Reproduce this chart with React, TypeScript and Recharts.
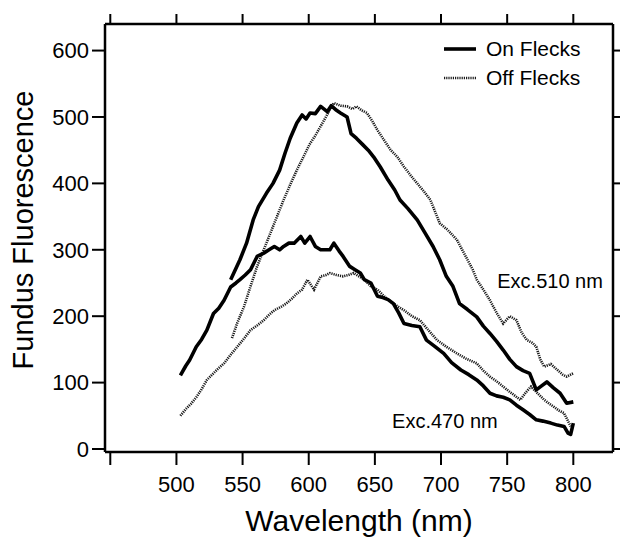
import React from 'react';
import { LineChart, Line, XAxis, YAxis, Legend, ReferenceDot } from 'recharts';

const FONT = '"Liberation Sans", Arial, Helvetica, sans-serif';

const xTicks = [450, 500, 550, 600, 650, 700, 750, 800];
const yTicks = [0, 100, 200, 300, 400, 500, 600];

const on510Nm = [541, 548, 553, 558, 562, 568, 573, 578, 582, 586, 591, 595, 598, 601, 605, 609, 614, 617, 621, 624, 629, 632, 636, 641, 645, 649, 654, 660, 665, 669, 675, 682, 688, 694, 699, 704, 709, 714, 720, 727, 732, 737, 742, 747, 752, 757, 762, 767, 772, 776, 780, 785, 790, 795, 800];
const on510Val = [255, 285, 310, 345, 365, 385, 400, 420, 445, 468, 491, 503, 497, 506, 505, 516, 508, 517, 510, 506, 500, 475, 468, 458, 450, 440, 425, 405, 390, 375, 362, 345, 325, 305, 285, 260, 245, 219, 210, 199, 185, 174, 162, 149, 135, 124, 118, 114, 89, 95, 101, 92, 84, 69, 71];

const off510Nm = [542, 546, 551, 556, 561, 566, 571, 576, 581, 586, 591, 596, 601, 605, 609, 613, 616, 619, 624, 629, 633, 636, 640, 644, 648, 652, 657, 662, 667, 672, 677, 682, 687, 692, 699, 705, 712, 716, 720, 724, 727, 732, 737, 742, 747, 752, 757, 761, 765, 769, 772, 775, 778, 783, 788, 792, 795, 800];
const off510Val = [167, 190, 214, 245, 275, 300, 325, 350, 375, 398, 420, 440, 460, 472, 486, 500, 511, 521, 517, 516, 512, 516, 510, 506, 494, 480, 465, 450, 440, 425, 412, 400, 388, 375, 340, 330, 315, 300, 285, 270, 255, 240, 224, 205, 189, 200, 194, 175, 164, 160, 154, 135, 124, 128, 119, 112, 109, 114];

const on470Nm = [503, 507, 510, 515, 519, 523, 528, 532, 536, 541, 545, 548, 552, 556, 561, 566, 570, 574, 578, 581, 585, 589, 594, 597, 601, 605, 609, 613, 616, 619, 623, 626, 631, 635, 639, 642, 647, 652, 656, 660, 664, 668, 672, 678, 684, 689, 695, 702, 708, 715, 721, 727, 732, 737, 742, 747, 752, 757, 762, 767, 772, 777, 783, 788, 793, 796, 798, 800];
const on470Val = [111, 125, 134, 154, 165, 179, 204, 212, 224, 244, 250, 255, 262, 270, 290, 295, 300, 305, 300, 305, 310, 310, 320, 310, 320, 305, 300, 300, 300, 310, 298, 290, 275, 270, 265, 255, 250, 230, 228, 225, 219, 205, 189, 186, 184, 164, 155, 144, 130, 119, 112, 104, 95, 84, 80, 78, 74, 66, 59, 52, 44, 42, 39, 36, 34, 24, 22, 39];

const off470Nm = [503, 507, 511, 515, 519, 523, 527, 531, 536, 541, 546, 551, 556, 561, 566, 570, 574, 579, 583, 587, 591, 595, 599, 604, 609, 613, 616, 621, 626, 630, 634, 638, 642, 647, 652, 657, 662, 667, 672, 678, 684, 690, 697, 704, 712, 719, 727, 732, 737, 742, 747, 752, 756, 760, 764, 768, 773, 778, 782, 785, 789, 793, 796, 798];
const off470Val = [50, 60, 68, 78, 90, 104, 112, 120, 129, 142, 154, 166, 179, 186, 194, 202, 209, 214, 219, 226, 234, 240, 255, 240, 260, 262, 265, 262, 260, 262, 265, 260, 255, 245, 240, 230, 222, 215, 209, 200, 194, 180, 164, 154, 144, 136, 129, 118, 109, 102, 94, 86, 80, 74, 85, 94, 84, 74, 68, 64, 58, 54, 42, 34];

const legendItems = [
  { name: 'On Flecks', dashed: false },
  { name: 'Off Flecks', dashed: true },
];

const annotations = [
  { nm: 742.5, val: 242, text: 'Exc.510 nm' },
  { nm: 663, val: 31, text: 'Exc.470 nm' },
];

const build = (xs: number[], ys: number[]) => xs.map((nm, i) => ({ nm, v: ys[i] }));

const on510 = build(on510Nm, on510Val);
const off510 = build(off510Nm, off510Val);
const on470 = build(on470Nm, on470Val);
const off470 = build(off470Nm, off470Val);

const SOLID = { stroke: '#000', strokeWidth: 3.6, strokeLinejoin: 'round' as const };
const DOTTED = { stroke: '#1a1a1a', strokeWidth: 2.6, strokeDasharray: '1.2 1' };

const LegendContent = () => (
  <div style={{ fontFamily: FONT, fontSize: 21, color: '#000', lineHeight: '29px' }}>
    {legendItems.map((it) => (
      <div key={it.name} style={{ display: 'flex', alignItems: 'center', height: 29 }}>
        <svg width={33} height={10} style={{ marginRight: 9 }}>
          {it.dashed ? (
            <line x1={0} y1={5} x2={32} y2={5} stroke="#1a1a1a" strokeWidth={2.6} strokeDasharray="1.2 1" />
          ) : (
            <line x1={0} y1={5} x2={32} y2={5} stroke="#000" strokeWidth={3.6} />
          )}
        </svg>
        <span>{it.name}</span>
      </div>
    ))}
  </div>
);

const YLabel = () => (
  <text x={33} y={230} transform="rotate(-90 33 230)" textAnchor="middle" fontFamily={FONT} fontSize={29} fill="#000">
    Fundus Fluorescence
  </text>
);

const XLabel = () => (
  <text x={359} y={531} textAnchor="middle" fontFamily={FONT} fontSize={30} fill="#000">
    Wavelength (nm)
  </text>
);

export default function App() {
  const tickStyle = { fontSize: 22, fill: '#000', fontFamily: FONT };
  return (
    <div style={{ position: 'absolute', left: 0, top: 0, background: '#fff' }}>
      <LineChart width={620} height={539} margin={{ top: 0, right: 0, bottom: 0, left: 0 }}>
        <XAxis
          xAxisId="bottom"
          dataKey="nm"
          type="number"
          domain={[446, 830]}
          ticks={xTicks}
          allowDataOverflow
          height={87}
          tickSize={13}
          tickMargin={11}
          stroke="#000"
          tick={tickStyle}
          axisLine={{ stroke: '#000', strokeWidth: 2.5 }}
          tickLine={{ stroke: '#000', strokeWidth: 2 }}
          tickFormatter={(v: number) => (v === 450 ? '' : String(v))}
          interval={0}
          label={<XLabel />}
        />
        <XAxis
          xAxisId="top"
          orientation="top"
          dataKey="nm"
          type="number"
          domain={[446, 830]}
          ticks={xTicks}
          allowDataOverflow
          height={24}
          tickSize={10}
          stroke="#000"
          axisLine={{ stroke: '#000', strokeWidth: 2.5 }}
          tickLine={{ stroke: '#000', strokeWidth: 2 }}
          tickFormatter={() => ''}
          interval={0}
        />
        <YAxis
          yAxisId="left"
          type="number"
          domain={[-4.5, 640]}
          ticks={yTicks}
          allowDataOverflow
          width={105}
          tickSize={13}
          tickMargin={3}
          stroke="#000"
          tick={tickStyle}
          axisLine={{ stroke: '#000', strokeWidth: 2.5 }}
          tickLine={{ stroke: '#000', strokeWidth: 2 }}
          interval={0}
          label={<YLabel />}
        />
        <YAxis
          yAxisId="right"
          orientation="right"
          type="number"
          domain={[-4.5, 640]}
          ticks={yTicks}
          allowDataOverflow
          width={7}
          tickSize={10}
          stroke="#000"
          axisLine={{ stroke: '#000', strokeWidth: 2.5 }}
          tickLine={{ stroke: '#000', strokeWidth: 2 }}
          tickFormatter={() => ''}
          interval={0}
        />
        <Legend
          layout="vertical"
          align="center"
          verticalAlign="middle"
          content={<LegendContent />}
          wrapperStyle={{ position: 'absolute', left: 444, top: 34, width: 'auto', height: 'auto' }}
        />
        <Line xAxisId="bottom" yAxisId="left" data={off510} dataKey="v" type="linear" dot={false} isAnimationActive={false} {...DOTTED} />
        <Line xAxisId="bottom" yAxisId="left" data={off470} dataKey="v" type="linear" dot={false} isAnimationActive={false} {...DOTTED} />
        <Line xAxisId="bottom" yAxisId="left" data={on510} dataKey="v" type="linear" dot={false} isAnimationActive={false} {...SOLID} />
        <Line xAxisId="bottom" yAxisId="left" data={on470} dataKey="v" type="linear" dot={false} isAnimationActive={false} {...SOLID} />
        {annotations.map((a) => (
          <ReferenceDot
            key={a.text}
            xAxisId="bottom"
            yAxisId="left"
            x={a.nm}
            y={a.val}
            r={0}
            fill="none"
            stroke="none"
            label={(p: any) => (
              <text x={p.viewBox.x} y={p.viewBox.y} textAnchor="start" fontFamily={FONT} fontSize={20} fill="#000">
                {a.text}
              </text>
            )}
          />
        ))}
      </LineChart>
    </div>
  );
}
